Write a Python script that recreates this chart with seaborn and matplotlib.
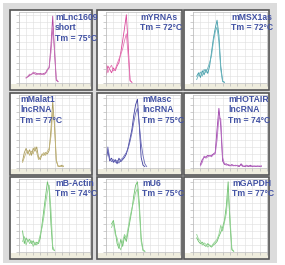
import numpy as np
import pandas as pd
import seaborn as sns
import matplotlib.pyplot as plt
from matplotlib.patches import Rectangle

# panel labels (row by row)
labels = ["mLnc1609\nshort\nTm = 75°C", "mYRNAs\nTm = 72°C", "mMSX1as\nTm = 72°C",
          "mMalat1\nlncRNA\nTm = 77°C", "mMasc\nlncRNA\nTm = 75°C", "mHOTAIR\nlncRNA\nTm = 74°C",
          "mB-Actin\nTm = 74°C", "mU6\nTm = 75°C", "mGAPDH\nTm = 77°C"]

# first temperature (deg C) of each trace, 1 deg steps
start_t = [59, 55, 57, 57, 55, 59, 57, 58, 57]

# melt curve -dF/dT, two replicates per panel (% of axis height)
lnc1609_a = [8, 9, 11, 13, 14, 15, 14, 13, 14, 13, 14, 15, 20, 22, 55, 98, 45, 4, 2]
lnc1609_b = [7, 10, 13, 12, 16, 13, 12, 14, 12, 13, 12, 14, 18, 24, 45, 80, 50, 6, 2]
yrnas_a = [12, 25, 20, 15, 22, 18, 25, 30, 45, 62, 80, 100, 55, 4, 1]
yrnas_b = [28, 15, 22, 26, 18, 20, 28, 35, 42, 50, 62, 72, 40, 3, 1]
msx1as_a = [10, 15, 8, 18, 12, 20, 14, 25, 45, 65, 80, 92, 70, 25, 3, 1]
msx1as_b = [5, 12, 16, 10, 20, 15, 22, 30, 40, 60, 75, 82, 60, 20, 2, 1]
malat1_a = [10, 22, 28, 20, 26, 18, 28, 24, 30, 15, 12, 20, 18, 22, 20, 25, 55, 95, 60, 10, 3, 2, 4, 2]
malat1_b = [8, 15, 22, 25, 18, 24, 20, 30, 22, 12, 16, 18, 22, 18, 24, 28, 45, 80, 65, 12, 2, 3, 2, 3]
masc_a = [12, 25, 10, 14, 8, 12, 6, 14, 9, 12, 15, 20, 30, 42, 55, 75, 90, 98, 60, 15, 4, 2]
masc_b = [8, 30, 14, 9, 12, 8, 11, 7, 12, 14, 18, 22, 28, 38, 50, 65, 78, 85, 62, 35, 18, 6, 2]
hotair_a = [5, 12, 15, 16, 18, 17, 18, 20, 22, 55, 85, 60, 10, 5, 6, 4, 3, 5, 3, 4, 3, 2, 6, 3, 2, 3, 2, 4, 2, 3, 2, 3, 2, 3]
hotair_b = [3, 8, 17, 14, 16, 18, 16, 19, 20, 40, 72, 70, 15, 6, 4, 5, 4, 3, 4, 3, 4, 3, 4, 2, 3, 4, 3, 2, 3, 2, 3, 2, 3, 2]
bactin_a = [30, 12, 20, 15, 18, 12, 16, 10, 14, 12, 20, 40, 60, 80, 100, 90, 40, 4, 2]
bactin_b = [15, 22, 10, 18, 12, 16, 8, 14, 10, 15, 25, 35, 50, 70, 85, 95, 60, 8, 2]
u6_a = [40, 45, 30, 12, 5, 18, 8, 22, 15, 30, 45, 60, 80, 95, 100, 70, 20, 3, 1]
u6_b = [35, 42, 25, 20, 8, 3, 15, 25, 20, 35, 50, 62, 72, 85, 90, 60, 15, 2, 1]
gapdh_a = [20, 15, 12, 14, 10, 8, 12, 9, 7, 10, 12, 15, 22, 28, 35, 45, 65, 100, 40, 3, 1]
gapdh_b = [25, 18, 16, 10, 13, 11, 7, 10, 8, 12, 15, 18, 25, 38, 30, 42, 55, 85, 50, 5, 1]

reps = [(lnc1609_a, lnc1609_b), (yrnas_a, yrnas_b), (msx1as_a, msx1as_b),
        (malat1_a, malat1_b), (masc_a, masc_b), (hotair_a, hotair_b),
        (bactin_a, bactin_b), (u6_a, u6_b), (gapdh_a, gapdh_b)]

colors = [("#b2479f", "#c775b8"), ("#d9479a", "#e57ab5"), ("#3e9aa8", "#6ab4bc"),
          ("#a89a5a", "#c2b47a"), ("#3e3e9e", "#6a6ab8"), ("#9a3aa8", "#b56cc0"),
          ("#6cc06c", "#92d292"), ("#6cc06c", "#92d292"), ("#6cc06c", "#92d292")]

# layout in pixels
W, H = 285, 265
col_x = [(10, 92), (97, 182), (184, 269)]
row_y = [(10, 90), (93, 175), (177, 259)]
text_xy = [(55, 13), (140, 13), (231, 13),
           (20, 95), (142, 95), (228, 95),
           (55, 179), (142, 179), (232, 179)]

fig = plt.figure(figsize=(W / 100, H / 100), dpi=100)
fig.patch.set_facecolor("white")


def fx(px):
    return px / W


def fy(py):
    return 1 - py / H


# grey backdrop
fig.patches.append(Rectangle((fx(3), fy(263)), fx(274), 260 / H, transform=fig.transFigure,
                             facecolor="#dcdcdc", edgecolor="none", zorder=0))

for i in range(9):
    r, c = divmod(i, 3)
    x0, x1 = col_x[c]
    y0, y1 = row_y[r]
    # panel frame
    fig.patches.append(Rectangle((fx(x0), fy(y1)), fx(x1 - x0), (y1 - y0) / H,
                                 transform=fig.transFigure, facecolor="white",
                                 edgecolor="#555555", linewidth=1.2, zorder=1))
    # beige strip at the bottom (x-axis area)
    fig.patches.append(Rectangle((fx(x0 + 1), fy(y1 - 1)), fx(x1 - x0 - 2), 5 / H,
                                 transform=fig.transFigure, facecolor="#efedde",
                                 edgecolor="none", zorder=1))

    ax = fig.add_axes([fx(x0 + 9), fy(y1 - 7), fx(x1 - x0 - 11), (y1 - y0 - 9) / H])
    ax.set_zorder(2)
    ax.set_facecolor("white")

    a, b = reps[i]
    t0 = start_t[i]
    df = pd.concat([
        pd.DataFrame({"temp": np.arange(t0, t0 + len(a)), "dfdt": a, "rep": "A"}),
        pd.DataFrame({"temp": np.arange(t0, t0 + len(b)), "dfdt": b, "rep": "B"}),
    ])
    sns.lineplot(data=df, x="temp", y="dfdt", hue="rep", palette=list(colors[i]),
                 ax=ax, legend=False, linewidth=0.6)

    ax.set_xlim(55, 95)
    ax.set_ylim(0, 104)
    ax.set_xticks(np.arange(55, 96, 4))
    ax.set_yticks(np.arange(0, 104, 10))
    ax.grid(True, color="#dedede", linewidth=0.4)
    ax.set_axisbelow(True)
    ax.tick_params(axis="both", length=2, width=0.4, color="#aaaaaa",
                   labelbottom=False, labelleft=False)
    ax.set_xlabel("")
    ax.set_ylabel("")
    for s in ax.spines.values():
        s.set_color("#bbbbbb")
        s.set_linewidth(0.5)

    tx, ty = text_xy[i]
    fig.text(fx(tx), fy(ty), labels[i], ha="left", va="top", fontsize=6.2,
             fontweight="bold", color="#4252a4", linespacing=1.18,
             family=["Liberation Sans Narrow", "Liberation Sans"], zorder=5)

plt.savefig("out.png", dpi=100)
